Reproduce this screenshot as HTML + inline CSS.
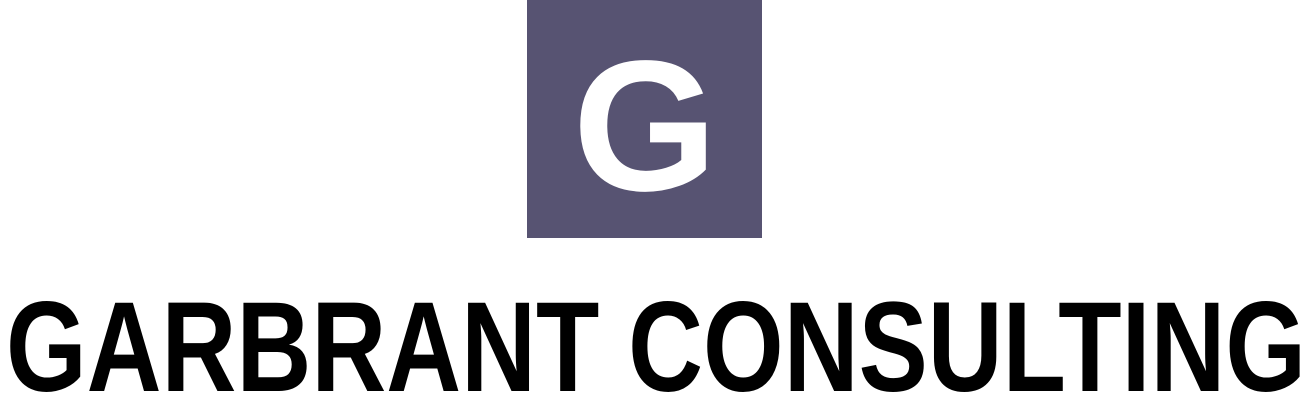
<!DOCTYPE html>
<html>
<head>
<meta charset="utf-8">
<style>
  html,body{margin:0;padding:0;background:#ffffff;}
  body{width:1313px;height:401px;overflow:hidden;}
  svg{display:block;}
</style>
</head>
<body>
<svg width="1313" height="401" viewBox="0 0 1313 401">
  <rect x="527" y="0" width="235" height="238" fill="#575372"/>
  <text x="645" y="190" text-anchor="middle" font-family="'Liberation Sans', sans-serif" font-weight="bold" font-size="186" fill="#ffffff">G</text>
  <text x="6" y="391" textLength="1300" lengthAdjust="spacingAndGlyphs" font-family="'Liberation Sans', sans-serif" font-weight="bold" font-size="128" fill="#000000">GARBRANT CONSULTING</text>
</svg>
</body>
</html>
